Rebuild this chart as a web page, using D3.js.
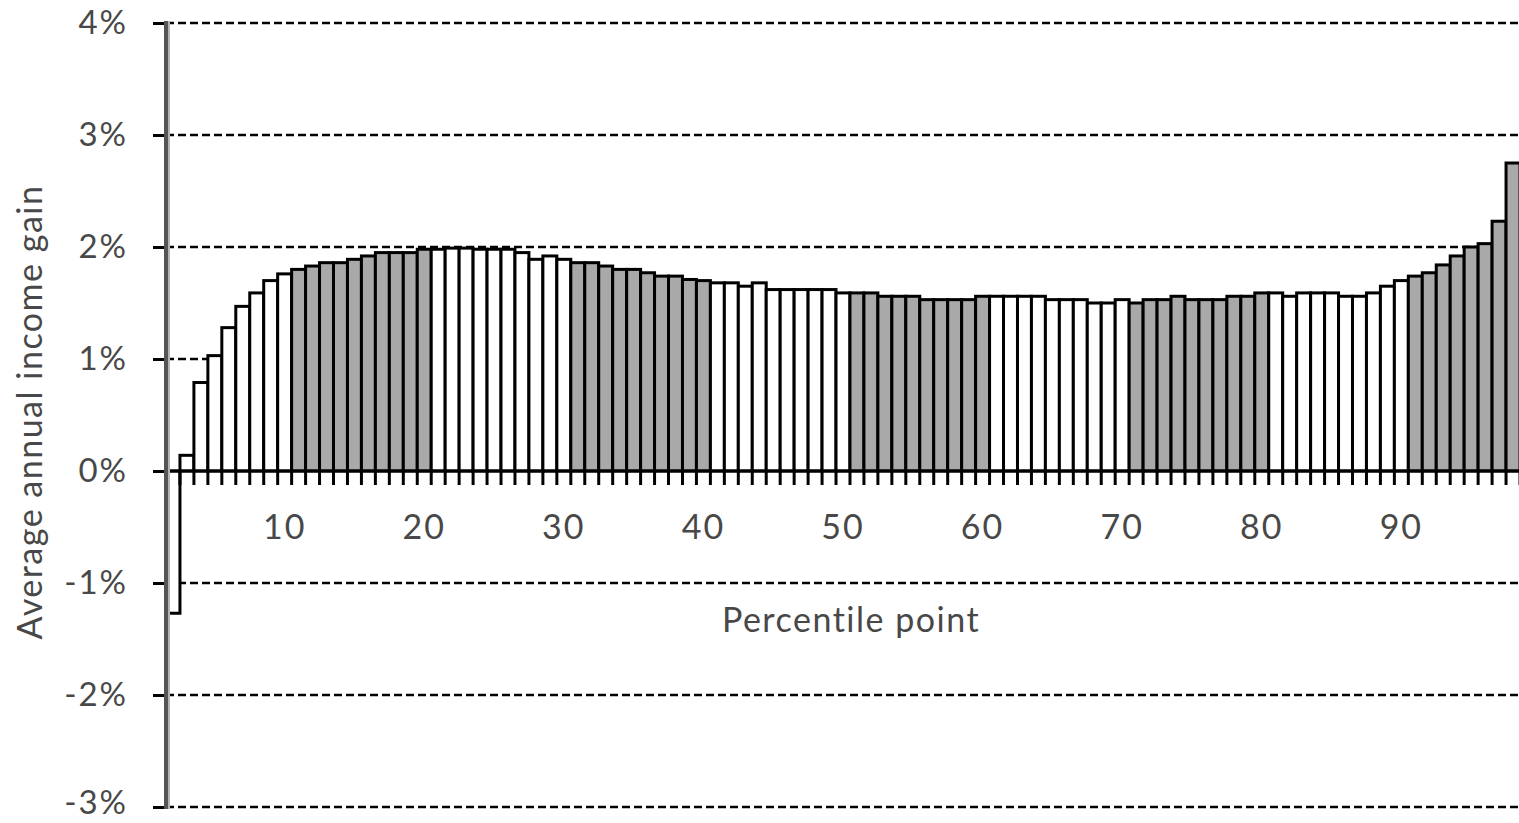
<!DOCTYPE html>
<html>
<head>
<meta charset="utf-8">
<script src="https://cdn.jsdelivr.net/npm/d3@7"></script>
<style>
  body { margin: 0; background: #fff; }
  text { font-family: Lato, "Open Sans", sans-serif; }
</style>
</head>
<body>
<div id="chart"></div>
<script>
// percentile points shown on the chart (first bar is the 2nd percentile)
const percentiles = [
  2, 3, 4, 5, 6, 7, 8, 9, 10,
  11, 12, 13, 14, 15, 16, 17, 18, 19, 20,
  21, 22, 23, 24, 25, 26, 27, 28, 29, 30,
  31, 32, 33, 34, 35, 36, 37, 38, 39, 40,
  41, 42, 43, 44, 45, 46, 47, 48, 49, 50,
  51, 52, 53, 54, 55, 56, 57, 58, 59, 60,
  61, 62, 63, 64, 65, 66, 67, 68, 69, 70,
  71, 72, 73, 74, 75, 76, 77, 78, 79, 80,
  81, 82, 83, 84, 85, 86, 87, 88, 89, 90,
  91, 92, 93, 94, 95, 96, 97, 98
];

// average annual income gain, in percent
const incomeGain = [
  -1.27, 0.14, 0.79, 1.03, 1.28, 1.47, 1.59, 1.70, 1.76,
  1.80, 1.83, 1.86, 1.86, 1.89, 1.92, 1.95, 1.95, 1.95, 1.98,
  1.98, 1.99, 1.99, 1.98, 1.98, 1.98, 1.95, 1.89, 1.92, 1.89,
  1.86, 1.86, 1.83, 1.80, 1.80, 1.77, 1.74, 1.74, 1.71, 1.70,
  1.68, 1.68, 1.65, 1.68, 1.62, 1.62, 1.62, 1.62, 1.62, 1.59,
  1.59, 1.59, 1.56, 1.56, 1.56, 1.53, 1.53, 1.53, 1.53, 1.56,
  1.56, 1.56, 1.56, 1.56, 1.53, 1.53, 1.53, 1.50, 1.50, 1.53,
  1.50, 1.53, 1.53, 1.56, 1.53, 1.53, 1.53, 1.56, 1.56, 1.59,
  1.59, 1.56, 1.59, 1.59, 1.59, 1.56, 1.56, 1.59, 1.65, 1.70,
  1.74, 1.77, 1.84, 1.92, 2.00, 2.03, 2.23, 2.75
];

const yTicks = [-3, -2, -1, 0, 1, 2, 3, 4];
const xTickLabels = [10, 20, 30, 40, 50, 60, 70, 80, 90];

const WIDTH = 1519, HEIGHT = 823;
const PLOT = { left: 166, right: 1520, top: 23, bottom: 807 };
const TEXT_COLOR = '#484848';

const data = percentiles.map((p, i) => ({ p, v: incomeGain[i] }));

const svg = d3.select('#chart').append('svg')
    .attr('width', WIDTH)
    .attr('height', HEIGHT)
    .style('display', 'block');

const x = d3.scaleBand()
    .domain(percentiles)
    .range([PLOT.left, PLOT.right])
    .padding(0);

const y = d3.scaleLinear()
    .domain([-3, 4])
    .range([PLOT.bottom, PLOT.top]);

// dashed gridlines
svg.append('g')
    .selectAll('line')
    .data(yTicks.filter(d => d !== 0))
    .join('line')
    .attr('x1', PLOT.left)
    .attr('x2', WIDTH)
    .attr('y1', d => y(d))
    .attr('y2', d => y(d))
    .attr('stroke', '#000')
    .attr('stroke-width', 2.5)
    .attr('stroke-dasharray', '8,4');

// bars, deciles alternate white / grey
svg.append('g')
    .selectAll('rect')
    .data(data)
    .join('rect')
    .attr('x', d => x(d.p))
    .attr('width', x.bandwidth())
    .attr('y', d => y(Math.max(0, d.v)))
    .attr('height', d => Math.abs(y(d.v) - y(0)))
    .attr('fill', d => Math.floor((d.p - 1) / 10) % 2 === 1 ? '#a9a9a9' : '#fff')
    .attr('stroke', '#000')
    .attr('stroke-width', 3);

// category boundary ticks under the zero line
svg.append('g')
    .selectAll('line')
    .data(percentiles)
    .join('line')
    .attr('x1', d => x(d) + x.bandwidth())
    .attr('x2', d => x(d) + x.bandwidth())
    .attr('y1', y(0))
    .attr('y2', y(0) + 14)
    .attr('stroke', '#000')
    .attr('stroke-width', 3);

// zero line
svg.append('line')
    .attr('x1', PLOT.left)
    .attr('x2', WIDTH)
    .attr('y1', y(0))
    .attr('y2', y(0))
    .attr('stroke', '#000')
    .attr('stroke-width', 3);

// y axis
const yAxis = d3.axisLeft(y)
    .tickValues(yTicks)
    .tickFormat(d => d + '%')
    .tickSize(13)
    .tickPadding(25);

const yg = svg.append('g')
    .attr('transform', `translate(${PLOT.left},0)`)
    .call(yAxis);
yg.select('.domain').remove();
yg.selectAll('.tick line').attr('stroke', '#000').attr('stroke-width', 3);
yg.selectAll('.tick text')
    .style('font-size', '33px')
    .style('letter-spacing', '2px')
    .attr('dy', d => d === -3 ? '0.2em' : '0.32em')
    .attr('fill', TEXT_COLOR);

// axis line (grey, slightly thick like the original)
svg.append('line')
    .attr('x1', PLOT.left).attr('x2', PLOT.left)
    .attr('y1', PLOT.top - 2).attr('y2', PLOT.bottom + 2)
    .attr('stroke', '#555')
    .attr('stroke-width', 4);
svg.append('line')
    .attr('x1', PLOT.left + 3).attr('x2', PLOT.left + 3)
    .attr('y1', PLOT.top - 2).attr('y2', PLOT.bottom + 2)
    .attr('stroke', '#b5b5b5')
    .attr('stroke-width', 2);

// x axis labels
const xAxis = d3.axisBottom(x)
    .tickValues(xTickLabels)
    .tickSize(0)
    .tickPadding(44);

const xg = svg.append('g')
    .attr('transform', `translate(0,${y(0)})`)
    .call(xAxis);
xg.select('.domain').remove();
xg.selectAll('.tick text')
    .style('font-size', '34px')
    .style('letter-spacing', '2px')
    .attr('fill', TEXT_COLOR);

// axis titles
svg.append('text')
    .attr('x', 851)
    .attr('y', 632)
    .attr('text-anchor', 'middle')
    .style('font-size', '34px')
    .style('letter-spacing', '1.5px')
    .attr('fill', TEXT_COLOR)
    .text('Percentile point');

svg.append('text')
    .attr('transform', 'translate(42,412) rotate(-90)')
    .attr('text-anchor', 'middle')
    .style('font-size', '34px')
    .style('letter-spacing', '1.5px')
    .attr('fill', TEXT_COLOR)
    .text('Average annual income gain');
</script>
</body>
</html>
